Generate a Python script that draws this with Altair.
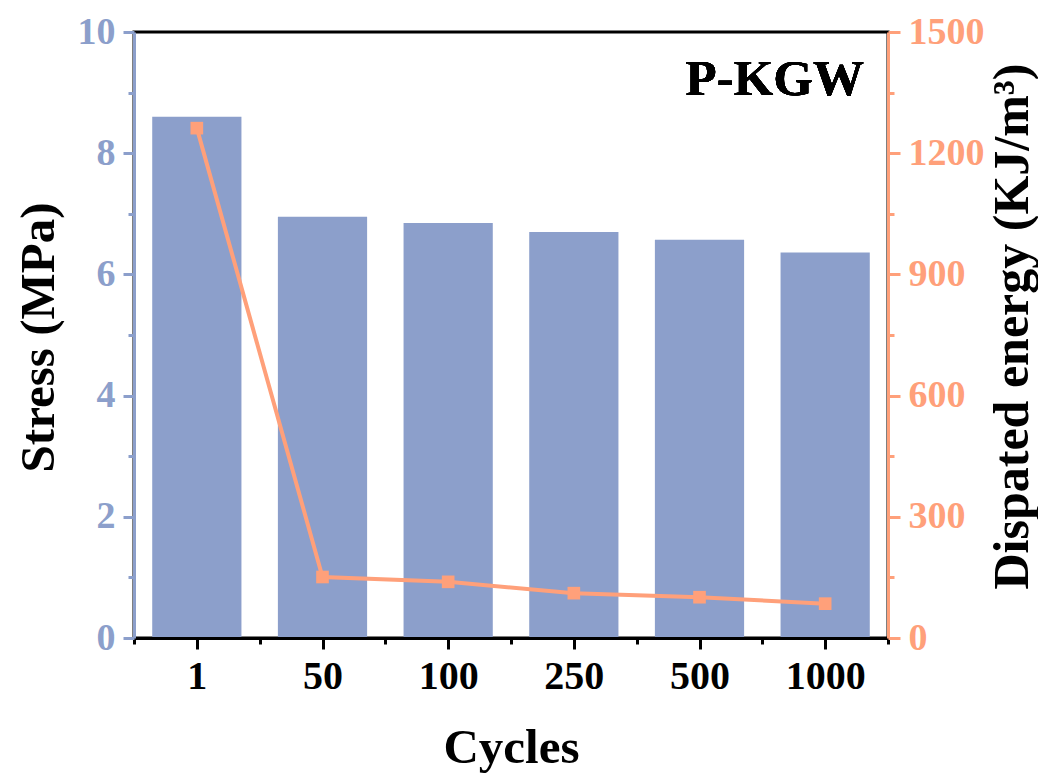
import json
import altair as alt
import pandas as pd

cycles = ["1", "50", "100", "250", "500", "1000"]
stress = [8.60, 6.95, 6.85, 6.70, 6.57, 6.36]
energy = [1262, 151, 139, 111, 101, 85]

BLUE = "#8C9FCB"
SALMON = "#FFA07A"
FONT = "Liberation Serif"

df = pd.DataFrame({
    "idx": list(range(1, len(cycles) + 1)),
    "cycle": cycles,
    "stress": stress,
    "energy": energy,
})

xscale = alt.Scale(domain=[0.5, len(cycles) + 0.5], nice=False, zero=False)
x_ticks = [i / 2 for i in range(1, 2 * len(cycles) + 2)]
label_expr = "datum.value % 1 === 0 ? " + json.dumps(cycles) + "[datum.value - 1] : ''"

x_axis = alt.Axis(
    values=x_ticks,
    labelExpr=label_expr,
    tickSize={"condition": {"test": "datum.value % 1 === 0", "value": 11}, "value": 6},
    tickColor="black", domainColor="black", labelColor="black",
    tickWidth=3, domainWidth=3,
    labelFontSize=40, labelPadding=7, grid=False,
    titleFontSize=49, titleX=377, titleY=124, titleBaseline="alphabetic",
    zindex=1,
)

bars = alt.Chart(df).transform_calculate(
    x0="datum.idx - 0.355", x1="datum.idx + 0.355"
).mark_bar(color=BLUE).encode(
    x=alt.X("x0:Q", scale=xscale, axis=x_axis, title="Cycles"),
    x2="x1:Q",
    y=alt.Y("stress:Q", scale=alt.Scale(domain=[0, 10], nice=False),
            title="Stress (MPa)",
            axis=alt.Axis(
                values=list(range(0, 11)),
                labelExpr="datum.value % 2 === 0 ? datum.label : ''",
                tickSize={"condition": {"test": "datum.value % 2 === 0", "value": 11}, "value": 6},
                tickColor=BLUE, domainColor=BLUE, labelColor=BLUE,
                tickWidth=3, domainWidth=3,
                labelFontSize=38, labelPadding=8, grid=False,
                titleFontSize=49, titleColor="black",
                titleX=-96, titleY=305, titleAngle=270,
                titleBaseline="middle", titleAlign="center",
                zindex=1,
            )),
    y2=alt.datum(0),
)

line = alt.Chart(df).mark_line(
    color=SALMON, strokeWidth=4,
    point=alt.OverlayMarkDef(shape="square", size=160, color=SALMON, filled=True, opacity=1),
).encode(
    x=alt.X("idx:Q", scale=xscale, axis=x_axis, title="Cycles"),
    y=alt.Y("energy:Q", scale=alt.Scale(domain=[0, 1500], nice=False),
            title="Dispated energy (KJ/m³)",
            axis=alt.Axis(
                orient="right",
                values=list(range(0, 1501, 150)),
                format="d",
                labelExpr="datum.value % 300 === 0 ? datum.label : ''",
                tickSize={"condition": {"test": "datum.value % 300 === 0", "value": 12}, "value": 6},
                tickColor=SALMON, domainColor=SALMON, labelColor=SALMON,
                tickWidth=3, domainWidth=3,
                labelFontSize=38, labelPadding=8, grid=False,
                titleFontSize=50, titleColor="black",
                titleX=124, titleY=294, titleAngle=270,
                titleBaseline="middle", titleAlign="center",
                zindex=1,
            )),
)

label = alt.Chart(df).mark_text(
    text="P-KGW", align="right", baseline="alphabetic",
    font=FONT, fontSize=51, fontWeight="bold", color="black",
).encode(x=alt.value(730), y=alt.value(63))

chart = alt.layer(bars, line, label).resolve_scale(y="independent").properties(
    width=754, height=606,
    autosize=alt.AutoSizeParams(type="none"),
    padding={"left": 126, "top": 24, "right": 150, "bottom": 136},
).configure_view(
    stroke="black", strokeWidth=3,
).configure_axis(
    labelFont=FONT, titleFont=FONT, labelFontWeight="bold", titleFontWeight="bold",
    domainWidth=3, tickWidth=3,
)

chart.save("out.html", embed_options={"renderer": "svg", "actions": False})
